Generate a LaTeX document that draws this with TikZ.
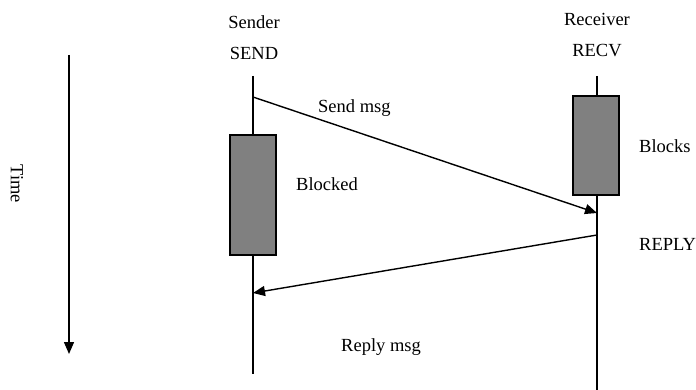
\documentclass[tikz,border=0pt]{standalone}
\usepackage{fontspec}
\setmainfont{Liberation Serif}
\usetikzlibrary{arrows.meta}
\begin{document}
\begin{tikzpicture}[x=1pt,y=-1pt,
  lbl/.style={font=\fontsize{18.5}{22}\selectfont, inner sep=0pt, anchor=base},
  lbll/.style={font=\fontsize{18.5}{22}\selectfont, inner sep=0pt, anchor=base west},
  life/.style={line width=1.4pt},
  msg/.style={line width=1.4pt, -{Triangle[length=12pt,width=10pt]}},
  blockbox/.style={draw, line width=1.4pt, fill=black!50, minimum width=46pt, inner sep=0pt}
]
\useasboundingbox (0,0) rectangle (696,390);
% time axis
\coordinate (t1) at (69,55);
\coordinate (t2) at (69,354);
\draw[msg] (t1) -- (t2);
\node[font=\fontsize{18.5}{22}\selectfont, inner sep=0pt, rotate=-90] (time) at (17,184) {Time};
% lifelines
\coordinate (sTop) at (253,76);
\coordinate (sBot) at (253,374);
\coordinate (rTop) at (597,76);
\coordinate (rBot) at (597,392);
\draw[life] (sTop) -- (sBot);
\draw[life] (rTop) -- (rBot);
% boxes
\node[blockbox, minimum height=120pt] (sbox) at (253,195) {};
\node[blockbox, minimum height=99pt] (rbox) at (596,145.5) {};
% headers
\node[lbl] (sender) at (254,29) {Sender};
\node[lbl] (send) at (254,60) {SEND};
\node[lbl] (receiver) at (597,26) {Receiver};
\node[lbl] (recv) at (597,57) {RECV};
% messages
\coordinate (s1) at (253,97);
\coordinate (r1) at (597,213);
\coordinate (r2) at (597,235);
\coordinate (s2) at (253,293);
\draw[msg] (s1) -- (r1);
\draw[msg] (r2) -- (s2);
% labels
\node[lbll] (sendmsg) at (318,113) {Send msg};
\node[lbll] (blocked) at (296,191) {Blocked};
\node[lbll] (blocks) at (639,153) {Blocks};
\node[lbll] (reply) at (639,251) {REPLY};
\node[lbll] (replymsg) at (341,351) {Reply msg};
\end{tikzpicture}
\end{document}
